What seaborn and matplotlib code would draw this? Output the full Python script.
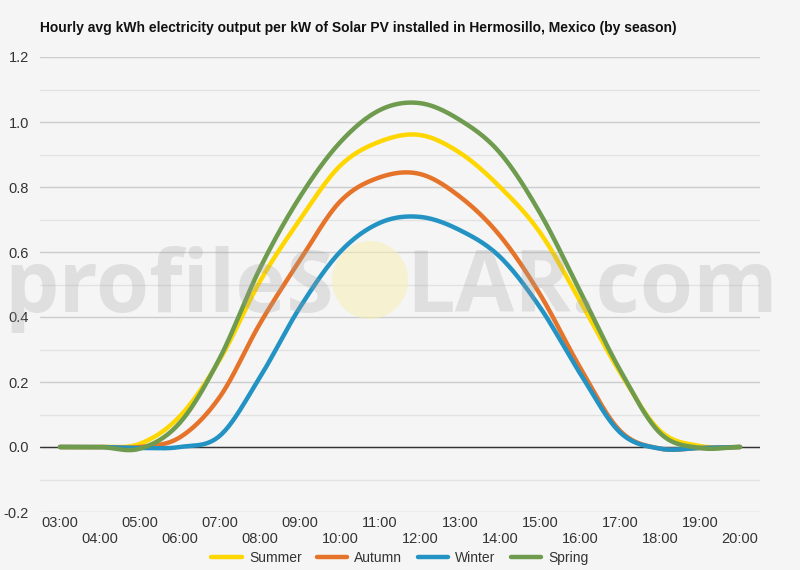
import numpy as np
import pandas as pd
import seaborn as sns
import matplotlib.pyplot as plt
from matplotlib.patches import Ellipse

# -----------------------------
# Data (hourly values in kWh per kW)
# -----------------------------
hours = [f"{h:02d}:00" for h in range(3, 21)]
summer = [0, 0, 0.01, 0.095, 0.27, 0.51, 0.70, 0.865, 0.94, 0.96, 0.905, 0.80, 0.66, 0.45, 0.23, 0.05, 0.003, 0]
autumn = [0, 0, 0, 0.03, 0.155, 0.38, 0.575, 0.755, 0.83, 0.84, 0.77, 0.65, 0.47, 0.245, 0.05, -0.005, -0.003, 0]
winter = [0, 0, -0.003, 0.0, 0.035, 0.215, 0.43, 0.60, 0.69, 0.708, 0.667, 0.585, 0.43, 0.227, 0.045, -0.005, -0.003, 0]
spring = [0, 0, -0.005, 0.075, 0.275, 0.55, 0.77, 0.937, 1.037, 1.058, 1.006, 0.905, 0.72, 0.48, 0.237, 0.043, -0.003, 0]

seasons = ["Summer", "Autumn", "Winter", "Spring"]
colores = {"Summer": "#ffd700", "Autumn": "#e5742a", "Winter": "#2393c4", "Spring": "#6e9b4e"}


# spline drawing (catmull-rom), like the original smooth lines
def suavizar(y, n=24):
    p = np.concatenate([[y[0]], y, [y[-1]]]).astype(float)
    xs, ys = [], []
    for i in range(len(y) - 1):
        p0, p1, p2, p3 = p[i], p[i + 1], p[i + 2], p[i + 3]
        t = np.linspace(0, 1, n, endpoint=False)
        v = 0.5 * (2 * p1 + (-p0 + p2) * t + (2 * p0 - 5 * p1 + 4 * p2 - p3) * t ** 2
                   + (-p0 + 3 * p1 - 3 * p2 + p3) * t ** 3)
        xs.extend(i + t)
        ys.extend(v)
    xs.append(len(y) - 1)
    ys.append(y[-1])
    return xs, ys


filas = []
for nombre, serie in zip(seasons, [summer, autumn, winter, spring]):
    xs, ys = suavizar(serie)
    for x, v in zip(xs, ys):
        filas.append({"x": x, "kWh": v, "Season": nombre})
df = pd.DataFrame(filas)

# -----------------------------
# Figure
# -----------------------------
sns.set_theme(style="white")
plt.rcParams['font.family'] = ['Liberation Sans', 'DejaVu Sans']

fondo = "#f5f5f5"
fig = plt.figure(figsize=(8, 5.7), dpi=100, facecolor=fondo)
ax = fig.add_axes([0.05, 1 - 512 / 570, 0.9, 455 / 570])
ax.set_facecolor(fondo)

# grid
for v in np.arange(-0.2, 1.21, 0.1):
    mayor = abs(round(v * 10) % 2) == 0
    ax.axhline(v, color="#cccccc" if mayor else "#e2e2e2", lw=1.0, zorder=0)
ax.axhline(0, color="#333333", lw=1.0, zorder=1)

sns.lineplot(data=df, x="x", y="kWh", hue="Season", hue_order=seasons,
             palette=colores, linewidth=3.2, ax=ax, zorder=3, sort=False)

ax.set_xlim(-0.5, 17.5)
ax.set_ylim(-0.2, 1.2)
ax.set_yticks(np.arange(-0.2, 1.21, 0.2))
ax.set_yticklabels([f"{v:.1f}" for v in np.arange(-0.2, 1.21, 0.2)])
ax.set_xticks(range(len(hours)))
ax.set_xticklabels([h if i % 2 == 0 else "\n" + h for i, h in enumerate(hours)])
ax.tick_params(axis="both", length=0, labelsize=10.5, colors="#333333")
ax.tick_params(axis="y", pad=8)
ax.tick_params(axis="x", pad=3)
ax.set_xlabel("")
ax.set_ylabel("")
for s in ax.spines.values():
    s.set_visible(False)

sns.move_legend(ax, "center", bbox_to_anchor=(0.5, 12 / 570), bbox_transform=fig.transFigure,
                ncol=4, frameon=False, title=None, fontsize=10, handlelength=2.2,
                columnspacing=1.1, handletextpad=0.5)
for t in ax.get_legend().get_texts():
    t.set_color("#333333")

fig.text(40 / 800, 1 - 28 / 570, "Hourly avg kWh electricity output per kW of Solar PV installed in Hermosillo, Mexico (by season)",
         fontsize=10, fontweight="bold", color="#111111", va="center", ha="left")

# watermark
marca = dict(fontsize=62, family="Open Sans", fontweight="bold", color="#a0a0a0",
             alpha=0.26, va="baseline", zorder=10)
fig.text(4 / 800, 1 - 312 / 570, "profileS", ha="left", **marca)
fig.text(406 / 800, 1 - 312 / 570, "LAR.com", ha="left", **marca)
sol = Ellipse((370 / 800, 1 - 280 / 570), 76 / 800, 78 / 570, transform=fig.transFigure,
              facecolor="#f6efb4", alpha=0.55, edgecolor="none", zorder=9)
fig.patches.append(sol)

plt.savefig("out.png", dpi=100, facecolor=fondo)
